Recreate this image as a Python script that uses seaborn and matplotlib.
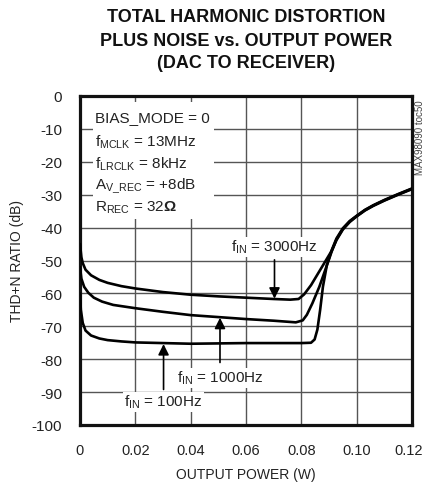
import numpy as np
import pandas as pd
import matplotlib
matplotlib.use("Agg")
import matplotlib.pyplot as plt
import matplotlib.transforms as mtransforms
from matplotlib.patches import Rectangle
import seaborn as sns

# ---------------- data ----------------
x_3000 = [0.0, 0.0005, 0.001, 0.002, 0.004, 0.007, 0.010, 0.015, 0.020, 0.030, 0.040,
          0.050, 0.060, 0.070, 0.076, 0.079, 0.081, 0.0835, 0.086, 0.0885, 0.091,
          0.0927, 0.095, 0.0975, 0.100, 0.103, 0.106, 0.110, 0.115, 0.120]
y_3000 = [-45.0, -49.0, -50.8, -52.8, -54.5, -55.9, -56.8, -57.8, -58.5, -59.6, -60.4,
          -60.9, -61.3, -61.7, -61.9, -61.7, -60.3, -57.5, -54.0, -50.5, -47.0,
          -43.8, -40.6, -38.3, -36.6, -34.8, -33.4, -31.8, -30.0, -28.3]

x_1000 = [0.0, 0.0005, 0.0015, 0.003, 0.005, 0.008, 0.012, 0.020, 0.030, 0.040,
          0.050, 0.060, 0.070, 0.078, 0.0805, 0.082, 0.084, 0.0865, 0.0888, 0.091,
          0.0927, 0.095, 0.0975, 0.100, 0.103, 0.106, 0.110, 0.115, 0.120]
y_1000 = [-52.0, -55.5, -58.0, -59.8, -61.3, -62.5, -63.5, -64.5, -65.6, -66.6,
          -67.2, -67.8, -68.3, -68.8, -68.2, -66.5, -63.0, -58.0, -52.5, -47.2,
          -43.6, -40.4, -38.1, -36.5, -34.7, -33.3, -31.7, -29.9, -28.2]

x_100 = [0.0, 0.0003, 0.001, 0.002, 0.004, 0.007, 0.010, 0.015, 0.020, 0.030, 0.040,
         0.050, 0.060, 0.070, 0.080, 0.0835, 0.0848, 0.0858, 0.0868, 0.0878, 0.0892,
         0.091, 0.0927, 0.095, 0.0975, 0.100, 0.103, 0.106, 0.110, 0.115, 0.120]
y_100 = [-60.0, -65.0, -69.0, -71.3, -72.8, -73.7, -74.2, -74.6, -74.9, -75.1, -75.3,
         -75.2, -75.1, -75.1, -75.1, -75.0, -74.0, -71.0, -65.0, -58.0, -51.5,
         -46.8, -43.3, -40.2, -38.0, -36.4, -34.6, -33.2, -31.6, -29.8, -28.1]

x_ticks = [0, 0.02, 0.04, 0.06, 0.08, 0.10, 0.12]
x_tick_labels = ["0", "0.02", "0.04", "0.06", "0.08", "0.10", "0.12"]
y_ticks = [0, -10, -20, -30, -40, -50, -60, -70, -80, -90, -100]
y_tick_labels = ["0", "-10", "-20", "-30", "-40", "-50", "-60", "-70", "-80", "-90", "-100"]

title_lines = ["TOTAL HARMONIC DISTORTION", "PLUS NOISE vs. OUTPUT POWER", "(DAC TO RECEIVER)"]
cond_lines = ["BIAS_MODE = 0",
              r"f$_{\rm MCLK}$ = 13MHz",
              r"f$_{\rm LRCLK}$ = 8kHz",
              r"A$_{\rm V\_REC}$ = +8dB",
              r"R$_{\rm REC}$ = 32$\mathbf{\Omega}$"]

# ---------------- style ----------------
sns.set_theme(style="white")
FONT = ["Liberation Sans", "DejaVu Sans"]
plt.rcParams["font.family"] = FONT
plt.rcParams["mathtext.fontset"] = "custom"
plt.rcParams["mathtext.rm"] = "Liberation Sans"
plt.rcParams["mathtext.it"] = "Liberation Sans:italic"
plt.rcParams["mathtext.bf"] = "Liberation Sans:bold"
plt.rcParams["text.color"] = "#222222"

fig = plt.figure(figsize=(4.24, 4.89), dpi=100)
ax = fig.add_axes([80 / 424, 1 - 426 / 489, 332 / 424, 329 / 489])

frames = []
for name, xs, ys in [("3000", x_3000, y_3000), ("1000", x_1000, y_1000), ("100", x_100, y_100)]:
    frames.append(pd.DataFrame({"power": xs, "thdn": ys, "series": name}))
df = pd.concat(frames, ignore_index=True)

sns.lineplot(data=df, x="power", y="thdn", units="series", estimator=None, sort=False,
             color="black", linewidth=1.9, ax=ax, zorder=3, legend=False)

ax.set_xlim(0, 0.12)
ax.set_ylim(-100, 0)
ax.set_xticks(x_ticks)
ax.set_xticklabels(x_tick_labels)
ax.set_yticks(y_ticks)
ax.set_yticklabels(y_tick_labels)
ax.tick_params(axis="both", length=0, labelcolor="#222222")
ax.tick_params(axis="y", pad=13, labelsize=11)
ax.tick_params(axis="x", pad=13, labelsize=10.5)
# nudge the last x label so it stays inside the figure
last = ax.get_xticklabels()[-1]
last.set_transform(last.get_transform() + mtransforms.ScaledTranslation(-3 / 100, 0, fig.dpi_scale_trans))
ax.grid(True, color="#555555", linewidth=1.0)
ax.set_axisbelow(True)
for s in ax.spines.values():
    s.set_visible(True)
    s.set_color("#111111")
    s.set_linewidth(2.3)

ax.set_xlabel("OUTPUT POWER (W)", fontsize=10, color="#222222", labelpad=7)
ax.set_ylabel("THD+N RATIO (dB)", fontsize=10, color="#222222", labelpad=5)

# conditions box
ax.add_patch(Rectangle((0.0047, -37.4), 0.0438, 35.6, facecolor="white",
                       edgecolor="none", zorder=2))
cond_y = [-6.5, -13.9, -20.5, -27.1, -33.7]
for txt, yy in zip(cond_lines, cond_y):
    ax.text(0.0054, yy, txt, fontsize=11, ha="left", va="center", zorder=4)

# curve labels with arrows
bbox = dict(facecolor="white", edgecolor="none", pad=1.0)
ax.text(0.0703, -45.8, r"f$_{\rm IN}$ = 3000Hz", fontsize=11, ha="center", va="center",
        bbox=bbox, zorder=4)
ax.text(0.0506, -85.6, r"f$_{\rm IN}$ = 1000Hz", fontsize=11, ha="center", va="center",
        bbox=bbox, zorder=4)
ax.text(0.0302, -92.9, r"f$_{\rm IN}$ = 100Hz", fontsize=11, ha="center", va="center",
        bbox=bbox, zorder=4)

arrow = dict(arrowstyle="-|>", color="black", lw=1.2, mutation_scale=16, shrinkA=0, shrinkB=0)
ax.annotate("", xy=(0.0703, -61.6), xytext=(0.0703, -49.8), arrowprops=arrow, zorder=5)
ax.annotate("", xy=(0.0506, -67.4), xytext=(0.0506, -81.0), arrowprops=arrow, zorder=5)
ax.annotate("", xy=(0.0302, -75.4), xytext=(0.0302, -89.2), arrowprops=arrow, zorder=5)

# title
for line, py in zip(title_lines, [18, 41, 64]):
    fig.text(246 / 424, 1 - py / 489, line, fontsize=13, fontweight="bold",
             ha="center", va="center", color="#111111")

fig.text(420 / 424, 1 - 100 / 489, "MAX98090 toc50", fontsize=7, rotation=90,
         ha="center", va="top", color="#444444")

fig.savefig("out.png", dpi=100)
